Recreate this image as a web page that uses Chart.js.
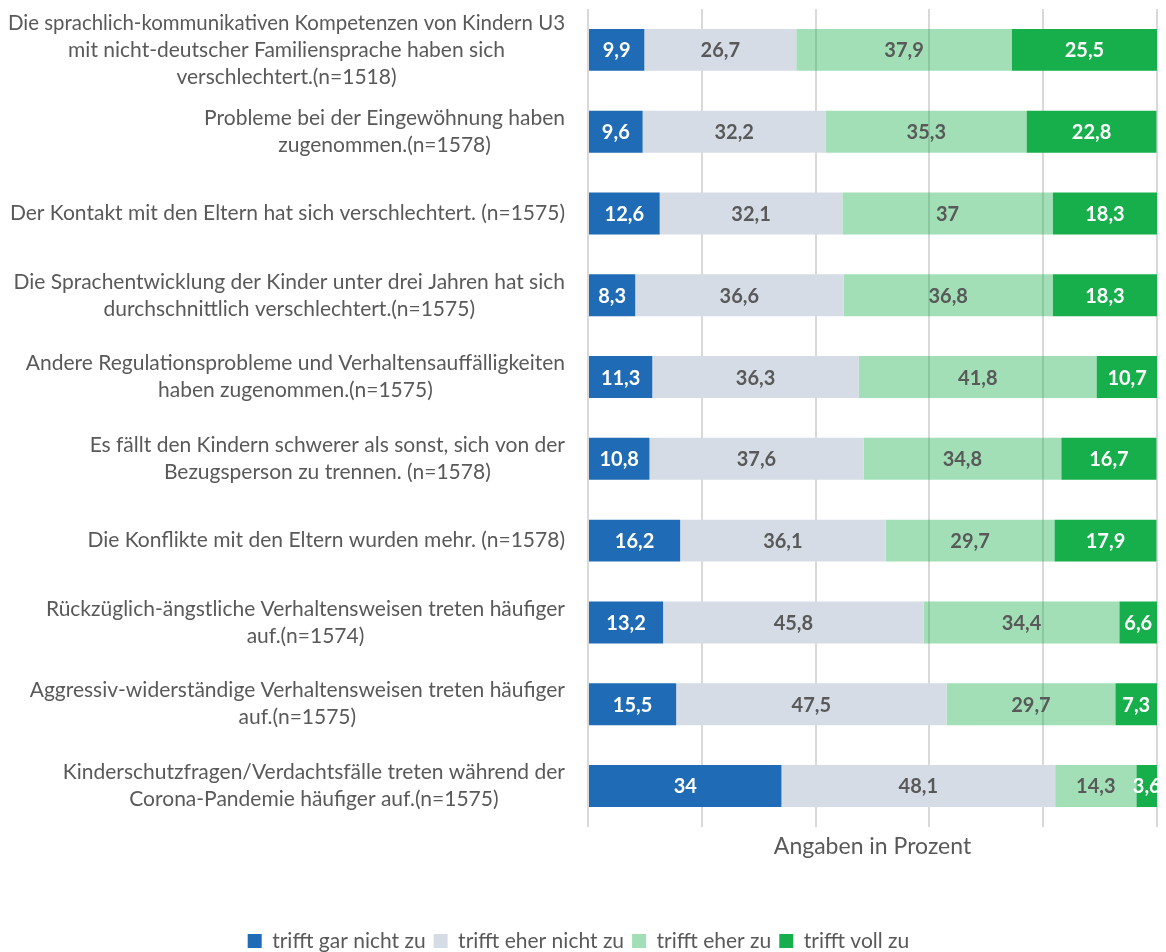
<!DOCTYPE html>
<html><head><meta charset="utf-8">
<script src="https://cdn.jsdelivr.net/npm/chart.js@4.4.1/dist/chart.umd.min.js"></script>
<style>html,body{margin:0;padding:0;background:#fff}#wrap{width:1166px;height:952px;position:relative}</style>
</head><body><div id="wrap"><canvas id="c"></canvas></div>
<script>
const categories = [
 ["Die sprachlich-kommunikativen Kompetenzen von Kindern U3","mit nicht-deutscher Familiensprache haben sich","verschlechtert.(n=1518)"],
 ["Probleme bei der Eingewöhnung haben","zugenommen.(n=1578)"],
 ["Der Kontakt mit den Eltern hat sich verschlechtert. (n=1575)"],
 ["Die Sprachentwicklung der Kinder unter drei Jahren hat sich","durchschnittlich verschlechtert.(n=1575)"],
 ["Andere Regulationsprobleme und Verhaltensauffälligkeiten","haben zugenommen.(n=1575)"],
 ["Es fällt den Kindern schwerer als sonst, sich von der","Bezugsperson zu trennen. (n=1578)"],
 ["Die Konflikte mit den Eltern wurden mehr. (n=1578)"],
 ["Rückzüglich-ängstliche Verhaltensweisen treten häufiger","auf.(n=1574)"],
 ["Aggressiv-widerständige Verhaltensweisen treten häufiger","auf.(n=1575)"],
 ["Kinderschutzfragen/Verdachtsfälle treten während der","Corona-Pandemie häufiger auf.(n=1575)"]
];
const seriesNames = ["trifft gar nicht zu","trifft eher nicht zu","trifft eher zu","trifft voll zu"];
const trifftGarNichtZu = [9.9, 9.6, 12.6, 8.3, 11.3, 10.8, 16.2, 13.2, 15.5, 34];
const trifftEherNichtZu = [26.7, 32.2, 32.1, 36.6, 36.3, 37.6, 36.1, 45.8, 47.5, 48.1];
const trifftEherZu = [37.9, 35.3, 37, 36.8, 41.8, 34.8, 29.7, 34.4, 29.7, 14.3];
const trifftVollZu = [25.5, 22.8, 18.3, 18.3, 10.7, 16.7, 17.9, 6.6, 7.3, 3.6];
const xAxisMin = 0, xAxisMax = 100, xAxisStep = 20;
const xAxisTitle = "Angaben in Prozent";

const FONT = "Lato, 'Noto Sans', sans-serif";
const GRAY = '#595959';
const fills = ['#1F6BB5', '#D6DCE5', 'rgba(22,176,76,0.4)', '#17AF4B'];
const labelColors = ['#ffffff', GRAY, GRAY, '#ffffff'];

const catLabelPlugin = {
  id: 'catLabels',
  afterDraw(chart) {
    const ctx = chart.ctx, ys = chart.scales.y;
    ctx.save();
    ctx.font = '21px ' + FONT;
    ctx.fillStyle = GRAY;
    ctx.textAlign = 'center';
    ctx.textBaseline = 'middle';
    const right = chart.chartArea.left - 23;
    const maxW = right - 8;
    categories.forEach((lines, i) => {
      const cy = ys.getPixelForValue(i);
      const w = Math.min(maxW, Math.max(...lines.map(l => ctx.measureText(l).width)));
      const cx = right - w / 2;
      const lh = 27;
      lines.forEach((l, j) => ctx.fillText(l, cx, cy + (j - (lines.length - 1) / 2) * lh, maxW));
    });
    ctx.restore();
  }
};

const valueLabelPlugin = {
  id: 'valueLabels',
  afterDatasetsDraw(chart) {
    const ctx = chart.ctx;
    ctx.save();
    ctx.font = 'bold 20px ' + FONT;
    ctx.textAlign = 'center';
    ctx.textBaseline = 'middle';
    chart.data.datasets.forEach((ds, di) => {
      const meta = chart.getDatasetMeta(di);
      ctx.fillStyle = labelColors[di];
      meta.data.forEach((el, i) => {
        const p = el.getProps(['x', 'y', 'base'], true);
        ctx.fillText(String(ds.data[i]).replace('.', ','), (p.x + p.base) / 2, p.y + 1);
      });
    });
    ctx.restore();
  }
};

const seriesData = [trifftGarNichtZu, trifftEherNichtZu, trifftEherZu, trifftVollZu];

new Chart(document.getElementById('c'), {
  type: 'bar',
  data: {
    labels: categories,
    datasets: seriesNames.map((n, i) => ({
      label: n,
      data: seriesData[i],
      backgroundColor: fills[i],
      borderWidth: 0,
      categoryPercentage: 1,
      barPercentage: 0.513
    }))
  },
  options: {
    indexAxis: 'y',
    responsive: true,
    maintainAspectRatio: false,
    animation: false,
    layout: { padding: { top: 9, right: 9, left: 0, bottom: -9.5 } },
    scales: {
      x: {
        stacked: true,
        min: xAxisMin, max: xAxisMax,
        ticks: { display: false, stepSize: xAxisStep },
        grid: { color: '#d9d9d9', lineWidth: 2, drawTicks: false },
        border: { display: false },
        title: {
          display: true, text: xAxisTitle, color: GRAY,
          font: { family: FONT, size: 23 },
          padding: { top: 6, bottom: 62 }
        }
      },
      y: {
        stacked: true,
        ticks: { display: false },
        grid: { display: false },
        border: { display: false },
        afterFit(scale) { scale.width = 588; }
      }
    },
    plugins: {
      legend: {
        position: 'bottom',
        labels: {
          boxWidth: 14, boxHeight: 14, padding: 8,
          color: GRAY,
          font: { family: FONT, size: 21 }
        }
      },
      tooltip: { enabled: false }
    }
  },
  plugins: [catLabelPlugin, valueLabelPlugin]
});
</script>
</body></html>
